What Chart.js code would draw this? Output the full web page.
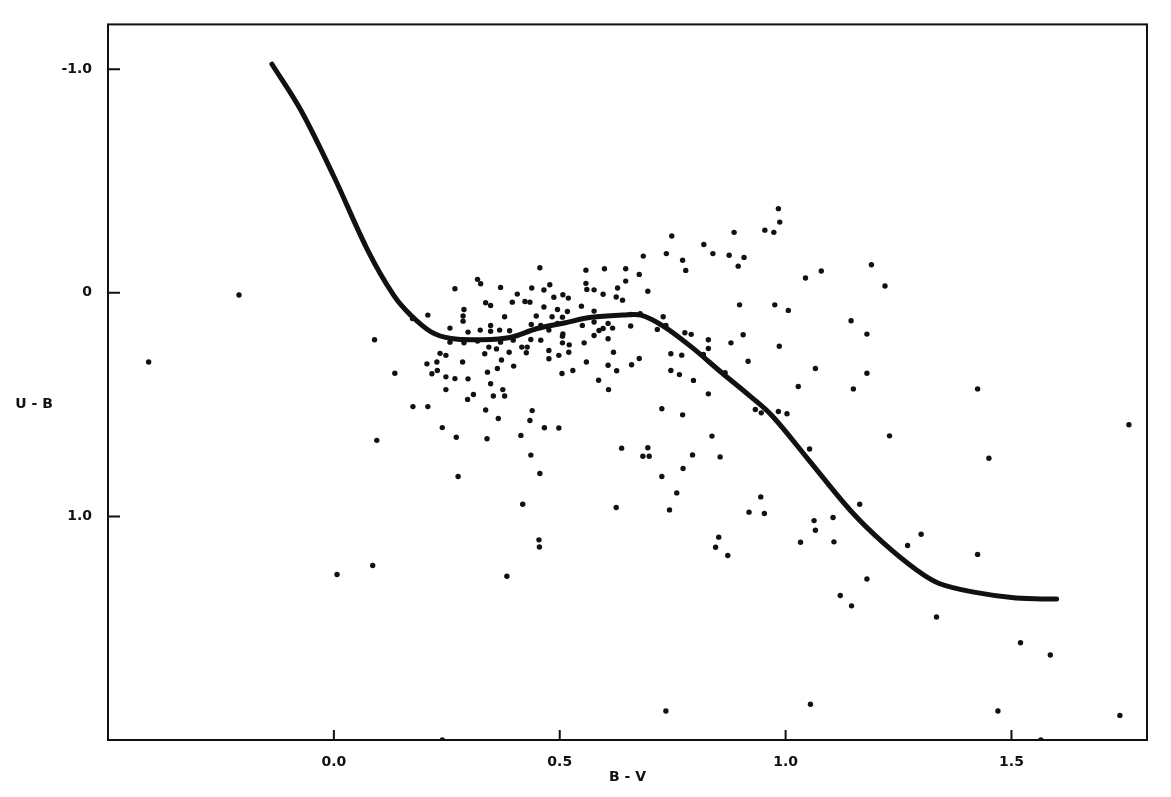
<!DOCTYPE html>
<html>
<head>
<meta charset="utf-8">
<script src="https://cdn.jsdelivr.net/npm/chart.js@4.4.1/dist/chart.umd.min.js"></script>
<style>
  body { margin: 0; background: #fff; }
  #wrap { width: 1171px; height: 797px; }
</style>
</head>
<body>
<div id="wrap"><canvas id="myChart" width="1171" height="797"></canvas></div>
<script>
'use strict';

// axis ticks
let xTickValues = [0, 0.5, 1.0, 1.5];
let xTickLabels = ['0.0', '0.5', '1.0', '1.5'];
let yTickValues = [-1.0, 0, 1.0];
let yTickLabels = ['-1.0', '0', '1.0'];

// mean two-colour relation (B-V, U-B)
let curveBV = [-0.137, -0.073, 0.0, 0.075, 0.133, 0.17, 0.215, 0.26, 0.325, 0.39, 0.45, 0.51, 0.57, 0.64, 0.68,
  0.73, 0.79, 0.86, 0.92, 0.97, 1.05, 1.144, 1.217, 1.29, 1.34, 1.42, 1.51, 1.60];
let curveUB = [-1.022, -0.816, -0.52, -0.19, 0.013, 0.10, 0.175, 0.205, 0.21, 0.20, 0.16, 0.135, 0.11, 0.10, 0.10,
  0.15, 0.24, 0.36, 0.46, 0.55, 0.745, 0.975, 1.12, 1.24, 1.30, 1.34, 1.365, 1.37];

// stars [B-V, U-B]
let starPoints = [
  [-0.41,0.31],[-0.21,0.01],[0.09,0.21],[0.135,0.36],[0.095,0.66],[0.007,1.26],[0.086,1.22],[0.24,2.0],
  [0.735,1.87],[1.055,1.84],[1.47,1.87],[1.565,2.0],[1.74,1.89],[1.586,1.62],
  [1.19,-0.125],[1.22,-0.03],[1.145,0.125],[1.18,0.185],[1.18,0.36],[1.15,0.43],[1.425,0.43],[1.76,0.59],
  [1.23,0.64],[1.45,0.74],
  [1.164,0.946],[1.146,1.40],[1.18,1.28],[1.27,1.13],[1.30,1.08],[1.425,1.17],[1.334,1.45],[1.52,1.565],
  [0.984,-0.376],[0.987,-0.316],[0.954,-0.28],[0.974,-0.27],[0.886,-0.27],[0.748,-0.254],[0.819,-0.216],
  [0.736,-0.175],[0.839,-0.175],[0.875,-0.168],[0.908,-0.158],[0.685,-0.164],[0.772,-0.145],[0.779,-0.10],
  [0.895,-0.119],[0.599,-0.107],[0.646,-0.107],[0.676,-0.082],[0.646,-0.052],[0.628,-0.021],[0.576,-0.013],
  [0.695,-0.007],[0.596,0.007],[0.625,0.019],[0.639,0.033],[1.044,-0.066],[1.079,-0.097],[0.898,0.054],
  [0.976,0.054],[1.006,0.079],[0.576,0.082],[0.576,0.131],[0.587,0.169],[0.596,0.16],[0.607,0.137],
  [0.617,0.158],[0.576,0.191],[0.607,0.206],[0.657,0.097],[0.657,0.149],[0.678,0.094],[0.729,0.107],
  [0.716,0.164],[0.735,0.146],[0.619,0.266],[0.607,0.324],[0.626,0.349],[0.659,0.322],[0.676,0.294],
  [0.586,0.391],[0.608,0.433],[0.777,0.179],[0.791,0.186],[0.829,0.21],[0.829,0.249],[0.746,0.273],
  [0.77,0.279],[0.818,0.276],[0.879,0.224],[0.906,0.188],[0.986,0.239],[0.917,0.306],[0.746,0.348],
  [0.765,0.366],[0.796,0.392],[0.866,0.358],[0.829,0.452],[1.066,0.339],[1.028,0.419],[0.726,0.519],
  [0.772,0.546],[0.933,0.522],[0.946,0.537],[0.984,0.531],[1.003,0.541],
  [0.637,0.695],[0.695,0.693],[0.684,0.731],[0.698,0.731],[0.837,0.641],[0.794,0.725],[0.855,0.734],
  [0.773,0.786],[0.726,0.822],[0.759,0.895],[0.743,0.971],[0.625,0.96],[1.053,0.699],[0.945,0.913],
  [0.919,0.981],[0.953,0.987],[0.852,1.093],[0.845,1.138],[0.872,1.175],[1.063,1.019],[1.066,1.062],
  [1.105,1.005],[1.033,1.116],[1.107,1.114],[1.121,1.354],
  [0.24,0.603],[0.271,0.646],[0.339,0.653],[0.414,0.638],[0.466,0.604],[0.498,0.605],[0.436,0.726],
  [0.275,0.822],[0.456,0.808],[0.418,0.946],[0.454,1.105],[0.455,1.137],[0.383,1.268],
  [0.456,-0.112],[0.558,-0.101],[0.318,-0.06],[0.325,-0.04],[0.268,-0.018],[0.369,-0.024],[0.438,-0.021],
  [0.478,-0.036],[0.465,-0.012],[0.558,-0.042],[0.56,-0.015],[0.406,0.006],[0.507,0.009],[0.519,0.024],
  [0.487,0.02],[0.395,0.042],[0.423,0.039],[0.434,0.042],[0.336,0.045],[0.347,0.057],[0.465,0.064],
  [0.495,0.075],[0.517,0.084],[0.548,0.06],[0.448,0.104],[0.483,0.107],[0.506,0.109],[0.378,0.107],
  [0.288,0.075],[0.286,0.104],[0.286,0.127],[0.208,0.1],[0.174,0.115],[0.437,0.142],[0.458,0.146],
  [0.495,0.137],[0.257,0.158],[0.297,0.176],[0.324,0.167],[0.347,0.146],[0.347,0.172],[0.367,0.167],
  [0.389,0.17],[0.476,0.167],[0.507,0.184],[0.55,0.146],[0.257,0.221],[0.288,0.224],[0.318,0.216],
  [0.369,0.221],[0.397,0.212],[0.436,0.209],[0.458,0.212],[0.506,0.194],[0.506,0.224],[0.521,0.233],
  [0.554,0.224],[0.343,0.243],[0.36,0.251],[0.416,0.243],[0.428,0.243],[0.388,0.266],[0.426,0.268],
  [0.235,0.271],[0.248,0.28],[0.334,0.273],[0.476,0.258],[0.52,0.266],[0.498,0.28],[0.476,0.295],
  [0.228,0.31],[0.206,0.318],[0.285,0.31],[0.371,0.301],[0.559,0.31],[0.398,0.328],[0.362,0.339],
  [0.229,0.348],[0.217,0.362],[0.34,0.355],[0.529,0.348],[0.505,0.361],[0.248,0.376],[0.268,0.384],
  [0.297,0.385],[0.347,0.407],[0.248,0.433],[0.374,0.433],[0.353,0.462],[0.378,0.462],[0.309,0.455],
  [0.296,0.477],[0.175,0.509],[0.208,0.509],[0.336,0.524],[0.439,0.527],[0.364,0.562],[0.434,0.571]
];

let labelFont = { family: 'DejaVu Sans', size: 14, weight: 'bold' };

// frame, inward tick marks and the two axis titles
let framePlugin = {
  id: 'frame',
  afterDraw(chart) {
    let ctx = chart.ctx;
    let area = chart.chartArea;
    let xs = chart.scales.x;
    let ys = chart.scales.y;
    ctx.save();
    ctx.strokeStyle = '#111';
    ctx.lineWidth = 2;
    ctx.strokeRect(area.left, area.top, area.right - area.left, area.bottom - area.top);
    ctx.beginPath();
    for (let i = 0; i < xTickValues.length; i++) {
      let px = xs.getPixelForValue(xTickValues[i]);
      ctx.moveTo(px, area.bottom);
      ctx.lineTo(px, area.bottom - 10);
    }
    for (let i = 0; i < yTickValues.length; i++) {
      let py = ys.getPixelForValue(yTickValues[i]);
      ctx.moveTo(area.left, py);
      ctx.lineTo(area.left + 12, py);
    }
    ctx.stroke();
    ctx.fillStyle = '#111';
    ctx.font = 'bold 14px "DejaVu Sans"';
    ctx.textAlign = 'center';
    ctx.textBaseline = 'middle';
    ctx.fillText('B - V', (area.left + area.right) / 2, area.bottom + 37);
    ctx.fillText('U - B', 34, ys.getPixelForValue(0.5));
    ctx.restore();
  }
};

let chartObject = {
  type: 'scatter',
  data: {
    datasets: [{
      label: 'stars',
      data: starPoints.map(p => ({ x: p[0], y: p[1] })),
      backgroundColor: '#111',
      borderColor: '#111',
      pointRadius: 2.7,
      pointBorderWidth: 0
    },
    {
      label: 'mean relation',
      data: curveBV.map((v, i) => ({ x: v, y: curveUB[i] })),
      showLine: true,
      tension: 0.35,
      borderColor: '#111',
      borderWidth: 5,
      borderCapStyle: 'round',
      pointRadius: 0
    }]
  },
  options: {
    responsive: false,
    animation: false,
    layout: { padding: { left: 0, top: 24, right: 24, bottom: 0 } },
    plugins: { legend: { display: false }, tooltip: { enabled: false } },
    scales: {
      x: {
        type: 'linear',
        min: -0.5,
        max: 1.8,
        grid: { display: false, drawTicks: false, tickLength: 0 },
        border: { display: false },
        afterBuildTicks: scale => { scale.ticks = xTickValues.map(v => ({ value: v })); },
        afterFit: scale => { scale.height = 57; },
        ticks: {
          padding: 14,
          color: '#111',
          font: labelFont,
          maxRotation: 0,
          callback: value => xTickLabels[xTickValues.indexOf(value)]
        }
      },
      y: {
        type: 'linear',
        reverse: true,
        min: -1.2,
        max: 2.0,
        grid: { display: false, drawTicks: false, tickLength: 0 },
        border: { display: false },
        afterBuildTicks: scale => { scale.ticks = yTickValues.map(v => ({ value: v })); },
        afterFit: scale => { scale.width = 108; },
        ticks: {
          padding: 16,
          color: '#111',
          font: labelFont,
          callback: value => yTickLabels[yTickValues.indexOf(value)]
        }
      }
    }
  },
  plugins: [framePlugin]
};

let ctx = document.getElementById('myChart').getContext('2d');
let myChart = new Chart(ctx, chartObject);
</script>
</body>
</html>
